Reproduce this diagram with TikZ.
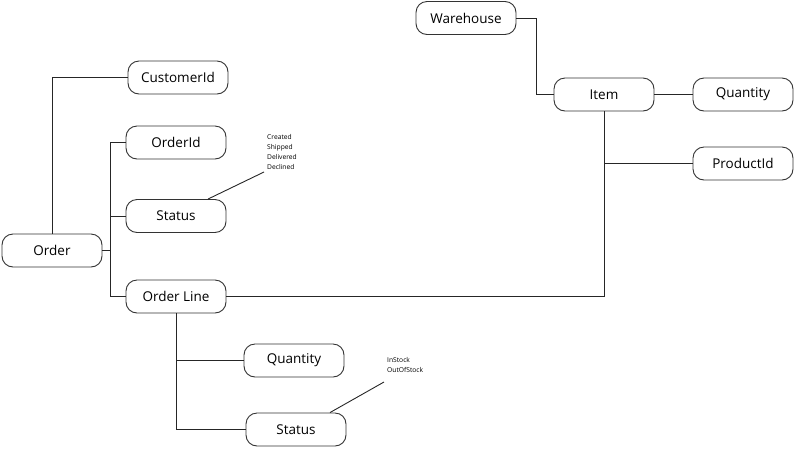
\documentclass[tikz,border=0pt]{standalone}
\usepackage{fontspec}
\setmainfont{Open Sans}
\begin{document}
\begin{tikzpicture}[x=1pt,y=-1pt,
  ent/.style={draw=black!80, line width=0.9pt, rounded corners=11pt, minimum width=100pt, minimum height=33pt, inner sep=0pt, font=\fontsize{13.5}{15}\selectfont},
  conn/.style={draw=black!85, line width=0.9pt},
  note/.style={align=left, anchor=north west, inner sep=0pt, font=\fontsize{6.7}{10}\selectfont}]
\useasboundingbox (0,0) rectangle (795,448);
\node[ent] (wh) at (466,18) {Warehouse};
\node[ent] (item) at (604,94.5) {Item};
\node[ent] (qty1) at (743,94.5) {Quantity};
\node[ent] (pid) at (743,163.5) {ProductId};
\node[ent] (cust) at (178,77.5) {CustomerId};
\node[ent] (oid) at (176,142.5) {OrderId};
\node[ent] (st1) at (176,216) {Status};
\node[ent] (order) at (52,250.5) {Order};
\node[ent] (ol) at (176,296.5) {Order Line};
\node[ent] (qty2) at (294,360.5) {Quantity};
\node[ent] (st2) at (296,429.5) {Status};
\node[note] (n1) at (267,134) {Created\\Shipped\\Delivered\\Declined};
\node[note] (n2) at (387,357) {InStock\\OutOfStock};
\coordinate (bus) at (110,250.5);
\coordinate (olx) at (604,296.5);
\coordinate (whx) at (536,18);
\coordinate (n1p) at (264,172);
\coordinate (n2p) at (384,382);
% connectors
\draw[conn] (order.north) |- (cust.west);
\draw[conn] (order.east) -- (bus);
\draw[conn] (bus) |- (oid.west);
\draw[conn] (bus) |- (st1.west);
\draw[conn] (bus) |- (ol.west);
\draw[conn] (ol.east) -- (olx) -- (item.south);
\draw[conn] (pid.west) -- (pid.west -| item.south);
\draw[conn] (wh.east) -- (whx) |- (item.west);
\draw[conn] (item.east) -- (qty1.west);
\draw[conn] (ol.south) |- (qty2.west);
\draw[conn] (ol.south) |- (st2.west);
\draw[conn] (st1.north) ++(32,0) coordinate (s1a) -- (n1p);
\draw[conn] (st2.north) ++(34,0) coordinate (s2a) -- (n2p);
\end{tikzpicture}
\end{document}
